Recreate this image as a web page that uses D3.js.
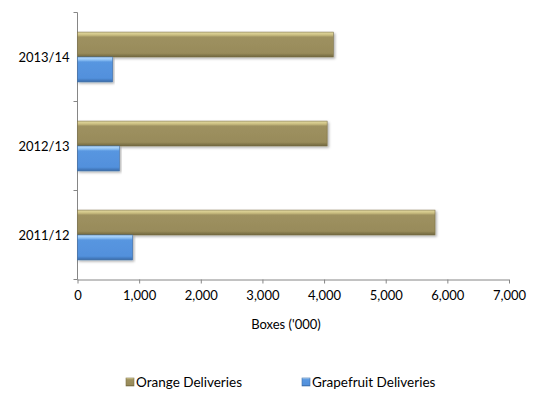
<!DOCTYPE html>
<html><head><meta charset="utf-8">
<script src="https://cdn.jsdelivr.net/npm/d3@7/dist/d3.min.js"></script>
<style>body{margin:0;background:#fff}svg{display:block}text{font-family:Lato,"Open Sans",sans-serif;fill:#000}</style>
</head><body><svg id="c" width="536" height="397"></svg>
<script>
const categories = ["2011/12","2012/13","2013/14"];
const orangeValues = [5800, 4050, 4150];
const grapefruitValues = [895, 680, 570];
const seriesNames = ["Orange Deliveries","Grapefruit Deliveries"];
const xTicks = [0,1000,2000,3000,4000,5000,6000,7000];

(function(){
const svg = d3.select("#c");
const defs = svg.append("defs");
function grad(id, stops){
  const g = defs.append("linearGradient").attr("id",id).attr("x1",0).attr("y1",0).attr("x2",0).attr("y2",1);
  stops.forEach(s=>g.append("stop").attr("offset",s[0]).attr("stop-color",s[1]));
}
grad("gO",[[0,"#e6dca2"],[0.12,"#c9bd80"],[0.2,"#9e9160"],[0.85,"#988b5a"],[1,"#6e643e"]]);
grad("gB",[[0,"#bfe0ff"],[0.12,"#8cc0f4"],[0.2,"#5896e0"],[0.85,"#5290dc"],[1,"#3a6aa8"]]);
const f = defs.append("filter").attr("id","sh").attr("x","-5%").attr("y","-20%").attr("width","110%").attr("height","150%");
f.append("feDropShadow").attr("dx",1.5).attr("dy",1.5).attr("stdDeviation",1).attr("flood-color","#000").attr("flood-opacity",0.3);

const pL = 77.5, pR = 509, pT = 12.5, pB = 279.5;
const x = d3.scaleLinear().domain([0,7000]).range([pL,pR]);
const y = d3.scaleBand().domain(categories.slice().reverse()).range([pT,pB]).paddingInner(0.44).paddingOuter(0.22);
const ys = d3.scaleBand().domain(seriesNames).range([0,y.bandwidth()]);

const axisColor = "#868686";
const fs = 13;
const xa = svg.append("g").attr("transform",`translate(0,${pB})`)
  .call(d3.axisBottom(x).tickValues(xTicks).tickSize(4).tickPadding(7).tickFormat(d3.format(",")));
xa.selectAll("path,line").attr("stroke",axisColor);
xa.select("path").attr("d",`M${pL},0.5H${pR}`);
xa.selectAll("text").attr("font-size",fs).style("font-family","Lato,sans-serif");

const yBoundaries = [pT, (pT*2+pB)/3, (pT+pB*2)/3, pB];
const ya = svg.append("g");
ya.append("line").attr("x1",pL).attr("x2",pL).attr("y1",pT).attr("y2",pB).attr("stroke",axisColor);
ya.selectAll("line.t").data(yBoundaries).join("line").attr("class","t")
  .attr("x1",pL-4).attr("x2",pL).attr("y1",d=>d).attr("y2",d=>d).attr("stroke",axisColor);
ya.selectAll("text").data(categories).join("text")
  .attr("x",pL-8).attr("y",d=>y(d)+y.bandwidth()/2).attr("dy","0.35em")
  .attr("text-anchor","end").attr("font-size",fs).text(d=>d);

const data = [];
categories.forEach((c,i)=>{
  data.push({c, s:seriesNames[0], v:orangeValues[i], g:"url(#gO)", st:"#7d7248"});
  data.push({c, s:seriesNames[1], v:grapefruitValues[i], g:"url(#gB)", st:"#3e6ea8"});
});
svg.append("g").selectAll("rect").data(data).join("rect")
  .attr("x",x(0)).attr("y",d=>y(d.c)+ys(d.s))
  .attr("width",d=>x(d.v)-x(0)).attr("height",ys.bandwidth())
  .attr("fill",d=>d.g).attr("stroke",d=>d.st).attr("stroke-width",0.6)
  .attr("filter","url(#sh)");

svg.append("text").attr("x",286).attr("y",329).attr("text-anchor","middle")
  .attr("font-size",fs).text("Boxes ('000)");

const legX = [126, 302];
const lg = svg.append("g").selectAll("g").data(seriesNames).join("g")
  .attr("transform",(d,i)=>`translate(${legX[i]},377)`);
lg.append("rect").attr("width",8).attr("height",8).attr("y",1)
  .attr("fill",(d,i)=>i?"url(#gB)":"url(#gO)").attr("stroke",(d,i)=>i?"#3e6ea8":"#7d7248").attr("stroke-width",0.6);
lg.append("text").attr("x",10).attr("y",5.5).attr("dy","0.35em").attr("font-size",13.5).text(d=>d);
})();
</script></body></html>
